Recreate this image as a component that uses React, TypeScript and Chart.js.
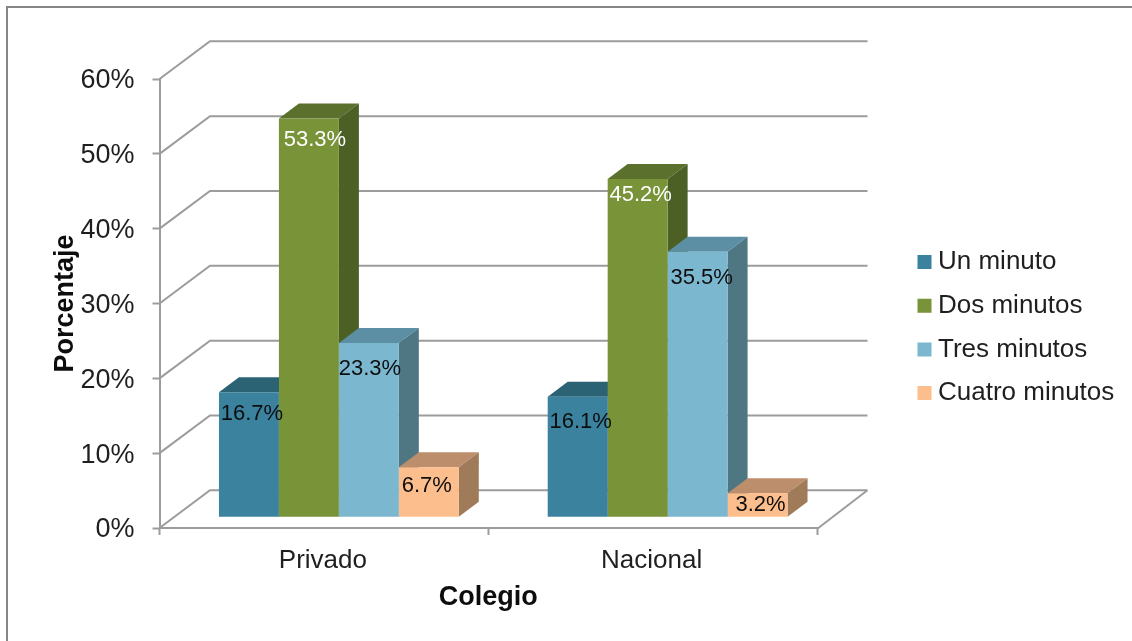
import React, { useEffect, useRef } from "react";
import { Chart, registerables } from "chart.js";

Chart.register(...registerables);

const categories = ["Privado", "Nacional"];
const seriesNames = ["Un minuto", "Dos minutos", "Tres minutos", "Cuatro minutos"];
const unMinuto = [16.7, 16.1];
const dosMinutos = [53.3, 45.2];
const tresMinutos = [23.3, 35.5];
const cuatroMinutos = [6.7, 3.2];

// Shading for each series: front, top and side faces of the box, then label ink.
const frontColors = ["#3A829E", "#789338", "#7BB8D0", "#FBBE8C"];
const topColors = ["#2B6274", "#5A702C", "#5C8FA4", "#BD8E6B"];
const sideColors = ["#26566A", "#4C5F25", "#4F7783", "#9F7B5A"];
const labelColors = ["#0d0d0d", "#ffffff", "#0d0d0d", "#0d0d0d"];

// Pixel nudges for the value labels, measured from the centre of each bar's top edge.
const labelNudgeX = [[3, 3], [6, 3], [1, 4], [-2, 3]];
const labelNudgeY = [[22, 25], [21, 16], [26, 26], [19, 12]];

const FONT = "'Liberation Sans', Arial, sans-serif";
const GRID = "#9c9c9c";
const INK = "#1f1f1f";
const WALL_DX = 50.5;
const WALL_DY = -37.7;
const BAR_DX = 15;
const BAR_DY = -10.7;
const DEPTH_DX = 20;
const DEPTH_DY = -15;

const frame = {
  id: "frame",
  beforeDraw(chart: any) {
    const { ctx, width, height } = chart;
    ctx.save();
    ctx.fillStyle = "#ffffff";
    ctx.fillRect(0, 0, width, height);
    ctx.strokeStyle = "#868686";
    ctx.lineWidth = 2;
    ctx.beginPath();
    ctx.moveTo(7, height);
    ctx.lineTo(7, 7);
    ctx.lineTo(width, 7);
    ctx.stroke();
    ctx.restore();
  },
};

// Side wall and back wall rules running behind the bars, one for each y tick.
const walls = {
  id: "walls",
  beforeDatasetsDraw(chart: any) {
    const { ctx, scales } = chart;
    const { left, right } = chart.chartArea;
    ctx.save();
    ctx.strokeStyle = GRID;
    ctx.lineWidth = 2;
    scales.y.ticks.forEach((t: any) => {
      const y = scales.y.getPixelForValue(t.value);
      ctx.beginPath();
      ctx.moveTo(left, y);
      ctx.lineTo(left + WALL_DX, y + WALL_DY);
      ctx.lineTo(right + WALL_DX, y + WALL_DY);
      if (t.value === 0) {
        ctx.moveTo(right + WALL_DX, y + WALL_DY);
        ctx.lineTo(right, y + 1);
      }
      ctx.stroke();
    });
    ctx.restore();
  },
};

// Extrudes each bar into a box: top and side faces go down first, left to right,
// so a bar's box covers its neighbour's side; the library then draws the front faces.
const boxes = {
  id: "boxes",
  beforeDatasetsDraw(chart: any) {
    const { ctx } = chart;
    ctx.save();
    ctx.translate(BAR_DX, BAR_DY);
    categories.forEach((_, j) => {
      seriesNames.forEach((_, i) => {
        const bar = chart.getDatasetMeta(i).data[j];
        const l = bar.x - bar.width / 2;
        const r = bar.x + bar.width / 2;
        const t = bar.y;
        const b = bar.base;
        ctx.fillStyle = topColors[i];
        ctx.beginPath();
        ctx.moveTo(l, t);
        ctx.lineTo(l + DEPTH_DX, t + DEPTH_DY);
        ctx.lineTo(r + DEPTH_DX, t + DEPTH_DY);
        ctx.lineTo(r, t);
        ctx.closePath();
        ctx.fill();
        ctx.fillStyle = sideColors[i];
        ctx.beginPath();
        ctx.moveTo(r, t);
        ctx.lineTo(r + DEPTH_DX, t + DEPTH_DY);
        ctx.lineTo(r + DEPTH_DX, b + DEPTH_DY);
        ctx.lineTo(r, b);
        ctx.closePath();
        ctx.fill();
      });
    });
    ctx.restore();
  },
  beforeDatasetDraw(chart: any) {
    chart.ctx.save();
    chart.ctx.translate(BAR_DX, BAR_DY);
  },
  afterDatasetDraw(chart: any) {
    chart.ctx.restore();
  },
  afterDatasetsDraw(chart: any) {
    const { ctx } = chart;
    ctx.save();
    ctx.font = `22px ${FONT}`;
    ctx.textAlign = "center";
    ctx.textBaseline = "middle";
    chart.data.datasets.forEach((ds: any, i: number) => {
      chart.getDatasetMeta(i).data.forEach((bar: any, j: number) => {
        ctx.fillStyle = labelColors[i];
        ctx.fillText(
          `${ds.data[j].toFixed(1)}%`,
          bar.x + BAR_DX + labelNudgeX[i][j],
          bar.y + BAR_DY + labelNudgeY[i][j],
        );
      });
    });
    ctx.restore();
  },
};

// The legend floats to the right of the plot, with a gap the stock layout cannot express.
const legendPlacement = {
  id: "legendPlacement",
  beforeLayout(chart: any) {
    const lg = chart.legend;
    if (lg.wideFit) return;
    lg.wideFit = true;
    const fit = lg.fit;
    lg.fit = function () {
      fit.call(this);
      this.width = 315;
    };
  },
  afterLayout(chart: any) {
    const lg = chart.legend;
    const pad = lg.options.labels.padding;
    lg.left = 924 - pad;
    lg.right = lg.left + lg.width;
    lg.top = 249 - pad;
  },
};

export default function App() {
  const ref = useRef<HTMLCanvasElement>(null);

  useEffect(() => {
    const values = [unMinuto, dosMinutos, tresMinutos, cuatroMinutos];
    const chart = new Chart(ref.current as HTMLCanvasElement, {
      type: "bar",
      data: {
        labels: categories,
        datasets: seriesNames.map((label, i) => ({
          label,
          data: values[i],
          backgroundColor: frontColors[i],
          borderWidth: 0,
          barPercentage: 1,
          categoryPercentage: 0.7295,
        })),
      },
      options: {
        animation: false,
        responsive: false,
        layout: { padding: { top: 79, left: 0, right: 0, bottom: 0 } },
        plugins: {
          tooltip: { enabled: false },
          legend: {
            position: "right",
            align: "start",
            labels: {
              usePointStyle: true,
              pointStyle: "rect",
              boxWidth: 1,
              boxHeight: 14,
              padding: 17.7,
              color: INK,
              font: { family: FONT, size: 26 },
            },
          },
        },
        scales: {
          x: {
            afterFit(scale: any) {
              scale.height = 113;
            },
            border: { color: GRID, width: 2 },
            grid: { drawOnChartArea: false, drawTicks: true, tickLength: 7, tickWidth: 2, tickColor: GRID },
            ticks: { color: INK, padding: 10, labelOffset: -1, maxRotation: 0, font: { family: FONT, size: 26 } },
            title: {
              display: true,
              text: "Colegio",
              color: "#0d0d0d",
              padding: { top: 0, bottom: 27 },
              font: { family: FONT, size: 27, weight: "bold" },
            },
          },
          y: {
            min: 0,
            max: 60,
            afterFit(scale: any) {
              scale.width = 159.5;
            },
            border: { color: GRID, width: 2 },
            grid: { drawOnChartArea: false, drawTicks: true, tickLength: 7, tickWidth: 2, tickColor: GRID },
            ticks: {
              stepSize: 10,
              color: INK,
              padding: 18,
              labelOffset: 2,
              font: { family: FONT, size: 27 },
              callback: (v: any) => `${v}%`,
            },
            title: {
              display: true,
              text: "Porcentaje",
              color: "#0d0d0d",
              padding: { top: 49, bottom: 0 },
              font: { family: FONT, size: 27, weight: "bold" },
            },
          },
        },
      },
      plugins: [frame, walls, boxes, legendPlacement],
    } as any);
    return () => chart.destroy();
  }, []);

  return (
    <div style={{ position: "absolute", left: 0, top: 0, width: 1132, height: 641 }}>
      <canvas ref={ref} width={1132} height={641} style={{ display: "block" }} />
    </div>
  );
}
